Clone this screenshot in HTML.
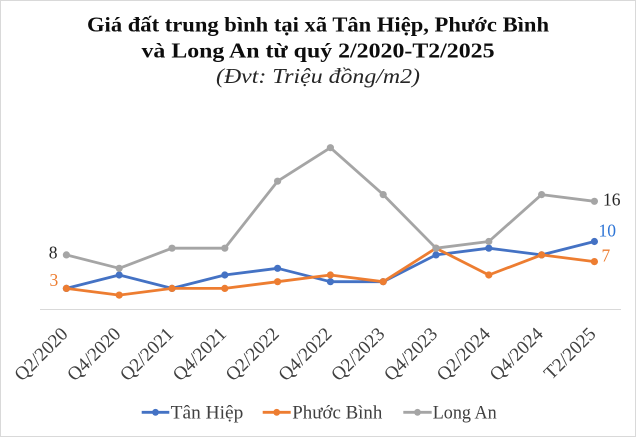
<!DOCTYPE html>
<html>
<head>
<meta charset="utf-8">
<style>
  html, body { margin: 0; padding: 0; background: #ffffff; }
  svg { display: block; }
</style>
</head>
<body>
<svg width="636" height="437" viewBox="0 0 636 437" xmlns="http://www.w3.org/2000/svg">
  <rect x="0" y="0" width="636" height="437" fill="#ffffff"/>
  <rect x="0.5" y="0.5" width="635" height="436" fill="none" stroke="#d9d9d9" stroke-width="1"/>

  <!-- Title -->
  <g font-family="'Liberation Serif', 'DejaVu Serif', serif" text-anchor="middle" fill="#0d0d0d">
    <text x="318" y="31.5" font-size="21" font-weight="bold" textLength="462" lengthAdjust="spacingAndGlyphs">Giá đất trung bình tại xã Tân Hiệp, Phước Bình</text>
    <text x="318" y="57.5" font-size="21" font-weight="bold" textLength="353" lengthAdjust="spacingAndGlyphs">và Long An từ quý 2/2020-T2/2025</text>
    <text x="318" y="83" font-size="21" font-style="italic" fill="#262626" textLength="204" lengthAdjust="spacingAndGlyphs">(Đvt: Triệu đồng/m2)</text>
  </g>

  <!-- Axis line -->
  <line x1="40" y1="309.5" x2="621" y2="309.5" stroke="#d9d9d9" stroke-width="1"/>

  <!-- Series: Tân Hiệp (blue) -->
  <g stroke="#4472C4" fill="#4472C4">
    <polyline fill="none" stroke-width="2.8" stroke-linejoin="round" stroke-linecap="round"
      points="66.4,288.4 119.2,275.0 172.0,288.4 224.8,275.0 277.6,268.3 330.4,281.7 383.2,281.7 436.0,254.9 488.8,248.2 541.6,254.9 594.4,241.5"/>
    <g stroke="none">
      <circle cx="66.4" cy="288.4" r="3.6"/><circle cx="119.2" cy="275.0" r="3.6"/><circle cx="172.0" cy="288.4" r="3.6"/>
      <circle cx="224.8" cy="275.0" r="3.6"/><circle cx="277.6" cy="268.3" r="3.6"/><circle cx="330.4" cy="281.7" r="3.6"/>
      <circle cx="383.2" cy="281.7" r="3.6"/><circle cx="436.0" cy="254.9" r="3.6"/><circle cx="488.8" cy="248.2" r="3.6"/>
      <circle cx="541.6" cy="254.9" r="3.6"/><circle cx="594.4" cy="241.5" r="3.6"/>
    </g>
  </g>

  <!-- Series: Phước Bình (orange) -->
  <g stroke="#ED7D31" fill="#ED7D31">
    <polyline fill="none" stroke-width="2.8" stroke-linejoin="round" stroke-linecap="round"
      points="66.4,288.4 119.2,295.1 172.0,288.4 224.8,288.4 277.6,281.7 330.4,275.0 383.2,281.7 436.0,248.2 488.8,275.0 541.6,254.9 594.4,261.6"/>
    <g stroke="none">
      <circle cx="66.4" cy="288.4" r="3.6"/><circle cx="119.2" cy="295.1" r="3.6"/><circle cx="172.0" cy="288.4" r="3.6"/>
      <circle cx="224.8" cy="288.4" r="3.6"/><circle cx="277.6" cy="281.7" r="3.6"/><circle cx="330.4" cy="275.0" r="3.6"/>
      <circle cx="383.2" cy="281.7" r="3.6"/><circle cx="436.0" cy="248.2" r="3.6"/><circle cx="488.8" cy="275.0" r="3.6"/>
      <circle cx="541.6" cy="254.9" r="3.6"/><circle cx="594.4" cy="261.6" r="3.6"/>
    </g>
  </g>

  <!-- Series: Long An (gray) -->
  <g stroke="#A5A5A5" fill="#A5A5A5">
    <polyline fill="none" stroke-width="2.8" stroke-linejoin="round" stroke-linecap="round"
      points="66.4,254.9 119.2,268.3 172.0,248.2 224.8,248.2 277.6,181.2 330.4,147.7 383.2,194.6 436.0,248.2 488.8,241.5 541.6,194.6 594.4,201.3"/>
    <g stroke="none">
      <circle cx="66.4" cy="254.9" r="3.6"/><circle cx="119.2" cy="268.3" r="3.6"/><circle cx="172.0" cy="248.2" r="3.6"/>
      <circle cx="224.8" cy="248.2" r="3.6"/><circle cx="277.6" cy="181.2" r="3.6"/><circle cx="330.4" cy="147.7" r="3.6"/>
      <circle cx="383.2" cy="194.6" r="3.6"/><circle cx="436.0" cy="248.2" r="3.6"/><circle cx="488.8" cy="241.5" r="3.6"/>
      <circle cx="541.6" cy="194.6" r="3.6"/><circle cx="594.4" cy="201.3" r="3.6"/>
    </g>
  </g>

  <!-- Data labels -->
  <g font-family="'Liberation Serif', 'DejaVu Serif', serif" font-size="17.5">
    <text x="57.5" y="258.3" text-anchor="end" fill="#262626">8</text>
    <text x="58.3" y="286" text-anchor="end" fill="#ED7D31">3</text>
    <text x="603" y="205.3" text-anchor="start" fill="#262626">16</text>
    <text x="598.5" y="236.7" text-anchor="start" fill="#2E75D6">10</text>
    <text x="601.5" y="261.7" text-anchor="start" fill="#ED7D31">7</text>
  </g>

  <!-- X axis labels -->
  <g font-family="'Liberation Serif', 'DejaVu Serif', serif" font-size="19" fill="#404040" text-anchor="end">
    <text transform="translate(68.9,335) rotate(-45)">Q2/2020</text>
    <text transform="translate(121.7,335) rotate(-45)">Q4/2020</text>
    <text transform="translate(174.5,335) rotate(-45)">Q2/2021</text>
    <text transform="translate(227.3,335) rotate(-45)">Q4/2021</text>
    <text transform="translate(280.1,335) rotate(-45)">Q2/2022</text>
    <text transform="translate(332.9,335) rotate(-45)">Q4/2022</text>
    <text transform="translate(385.7,335) rotate(-45)">Q2/2023</text>
    <text transform="translate(438.5,335) rotate(-45)">Q4/2023</text>
    <text transform="translate(491.3,335) rotate(-45)">Q2/2024</text>
    <text transform="translate(544.1,335) rotate(-45)">Q4/2024</text>
    <text transform="translate(596.9,335) rotate(-45)">T2/2025</text>
  </g>

  <!-- Legend -->
  <g>
    <line x1="141.7" y1="412.3" x2="169.3" y2="412.3" stroke="#4472C4" stroke-width="2.8"/>
    <circle cx="155.5" cy="412.3" r="3.4" fill="#4472C4"/>
    <line x1="262.7" y1="412.3" x2="290.7" y2="412.3" stroke="#ED7D31" stroke-width="2.8"/>
    <circle cx="276.7" cy="412.3" r="3.4" fill="#ED7D31"/>
    <line x1="403.3" y1="412.3" x2="431.7" y2="412.3" stroke="#A5A5A5" stroke-width="2.8"/>
    <circle cx="417.5" cy="412.3" r="3.4" fill="#A5A5A5"/>
  </g>
  <g font-family="'Liberation Serif', 'DejaVu Serif', serif" font-size="19" fill="#404040">
    <text x="170.7" y="418.3" textLength="72.6" lengthAdjust="spacingAndGlyphs">Tân Hiệp</text>
    <text x="292.3" y="418.3" textLength="90" lengthAdjust="spacingAndGlyphs">Phước Bình</text>
    <text x="432.7" y="418.3" textLength="64" lengthAdjust="spacingAndGlyphs">Long An</text>
  </g>
</svg>
</body>
</html>
